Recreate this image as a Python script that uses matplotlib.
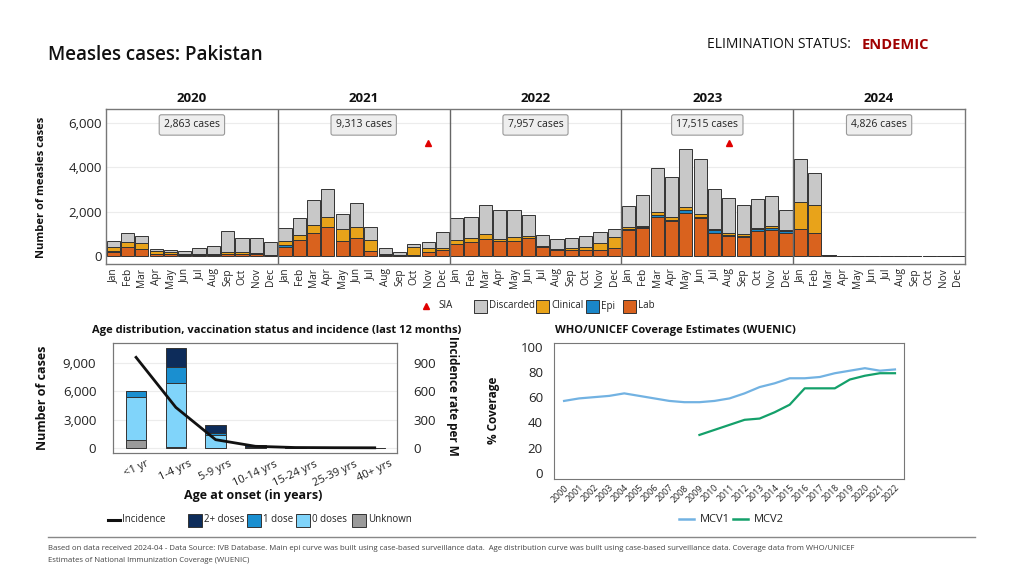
import matplotlib
matplotlib.use("Agg")
import matplotlib.pyplot as plt
from matplotlib.patches import Rectangle
from matplotlib.lines import Line2D
import numpy as np

plt.rcParams['font.family'] = ['Open Sans', 'DejaVu Sans']

# ---------------- data ----------------
years = ["2020", "2021", "2022", "2023", "2024"]
months = ["Jan", "Feb", "Mar", "Apr", "May", "Jun", "Jul", "Aug", "Sep", "Oct", "Nov", "Dec"]
year_totals = ["2,863 cases", "9,313 cases", "7,957 cases", "17,515 cases", "4,826 cases"]

lab_2020 = [200, 420, 330, 100, 75, 60, 45, 60, 75, 75, 75, 40]
epi_2020 = [10, 0, 0, 0, 0, 0, 0, 0, 0, 0, 0, 0]
clin_2020 = [208, 230, 240, 110, 105, 30, 55, 30, 90, 115, 75, 10]
disc_2020 = [262, 390, 350, 90, 75, 135, 275, 345, 975, 610, 680, 580]

lab_2021 = [420, 740, 1040, 1320, 700, 800, 210, 45, 15, 45, 165, 285]
epi_2021 = [70, 0, 0, 0, 0, 0, 0, 0, 0, 0, 0, 0]
clin_2021 = [205, 230, 360, 440, 520, 530, 500, 30, 15, 360, 180, 90]
disc_2021 = [585, 760, 1130, 1280, 680, 1060, 610, 285, 165, 125, 275, 705]

lab_2022 = [555, 645, 780, 690, 690, 800, 390, 285, 270, 285, 285, 360]
epi_2022 = [0, 0, 0, 0, 0, 0, 0, 0, 0, 0, 0, 0]
clin_2022 = [165, 170, 200, 90, 160, 95, 45, 45, 75, 105, 285, 480]
disc_2022 = [980, 960, 1335, 1280, 1240, 970, 525, 420, 485, 495, 510, 390]

lab_2023 = [1160, 1280, 1775, 1580, 1940, 1730, 1040, 900, 870, 1140, 1190, 1020]
epi_2023 = [40, 30, 100, 30, 130, 50, 120, 30, 50, 90, 60, 100]
clin_2023 = [90, 60, 115, 135, 125, 100, 70, 90, 55, 50, 120, 50]
disc_2023 = [980, 1400, 2000, 1815, 2645, 2510, 1810, 1600, 1315, 1310, 1320, 920]

lab_2024 = [1200, 1050, 50, 0, 0, 0, 0, 0, 0, 0, 0, 0]
epi_2024 = [20, 10, 0, 0, 0, 0, 0, 0, 0, 0, 0, 0]
clin_2024 = [1230, 1255, 10, 0, 0, 0, 0, 0, 0, 0, 0, 0]
disc_2024 = [1930, 1445, 0, 0, 0, 0, 0, 0, 0, 0, 0, 0]

sia_months = ["2021-Nov", "2023-Aug"]
sia_level = 5100

age_groups = ["<1 yr", "1-4 yrs", "5-9 yrs", "10-14 yrs", "15-24 yrs", "25-39 yrs", "40+ yrs"]
age_unknown = [810, 80, 0, 20, 5, 3, 2]
age_zero = [4540, 6850, 1370, 60, 10, 8, 4]
age_one = [635, 1620, 250, 40, 5, 4, 2]
age_two = [0, 2080, 770, 150, 10, 5, 2]
incidence = [960, 430, 88, 18, 5, 3, 2]

wuenic_years = list(range(2000, 2023))
mcv1 = [57, 59, 60, 61, 63, 61, 59, 57, 56, 56, 57, 59, 63, 68, 71, 75, 75, 76, 79, 81, 83, 81, 82]
mcv2_years = list(range(2009, 2023))
mcv2 = [30, 34, 38, 42, 43, 48, 54, 67, 67, 67, 74, 77, 79, 79]

# ---------------- colours ----------------
C_DISC = "#c8c8c8"
C_CLIN = "#e8a31a"
C_EPI = "#1a86c8"
C_LAB = "#d9621e"
C_TWO = "#0d2c5a"
C_ONE = "#1a8fd0"
C_ZERO = "#80d4fa"
C_UNK = "#9a9a9a"
C_MCV1 = "#72b2e2"
C_MCV2 = "#14a06a"
SPINE = "#777777"
TXT = "#222222"

W, H = 1024, 576
fig = plt.figure(figsize=(W / 100, H / 100), dpi=100)


def rect(l, t, r, b):
    return [l / W, 1 - b / H, (r - l) / W, (b - t) / H]


def fx(x):
    return x / W


def fy(y):
    return 1 - y / H


# ---------------- header ----------------
fig.text(fx(48), fy(55), "Measles cases: Pakistan", fontsize=13.5, fontweight="semibold",
         va="center", ha="left", color="#111111")
fig.text(fx(851), fy(45), "ELIMINATION STATUS:", fontsize=10, va="center", ha="right", color="#111111")
fig.text(fx(862), fy(45), "ENDEMIC", fontsize=10.5, fontweight="bold", va="center", ha="left", color="#a00000")

# ---------------- top epi curve ----------------
ax = fig.add_axes(rect(106, 109, 965, 264))
lab = lab_2020 + lab_2021 + lab_2022 + lab_2023 + lab_2024
epi = epi_2020 + epi_2021 + epi_2022 + epi_2023 + epi_2024
clin = clin_2020 + clin_2021 + clin_2022 + clin_2023 + clin_2024
disc = disc_2020 + disc_2021 + disc_2022 + disc_2023 + disc_2024
x = np.arange(len(lab))
lab_a, epi_a, clin_a, disc_a = map(np.array, (lab, epi, clin, disc))
bw = 0.92
ekw = dict(edgecolor="#333333", linewidth=0.7)
ax.bar(x, lab_a, bw, color=C_LAB, **ekw)
ax.bar(x, epi_a, bw, bottom=lab_a, color=C_EPI, **ekw)
ax.bar(x, clin_a, bw, bottom=lab_a + epi_a, color=C_CLIN, **ekw)
ax.bar(x, disc_a, bw, bottom=lab_a + epi_a + clin_a, color=C_DISC, **ekw)

labels_all = [f"{y}-{m}" for y in years for m in months]
for s in sia_months:
    i = labels_all.index(s)
    ax.plot([x[i]], [sia_level], marker="^", color="#e00000", markersize=4.5, linestyle="none")

ax.set_xlim(-0.5, len(lab) - 0.5)
ax.set_ylim(-360, 6640)
ax.set_yticks([0, 2000, 4000, 6000])
ax.set_yticklabels(["0", "2,000", "4,000", "6,000"], fontsize=9.5, color=TXT)
ax.set_xticks(x)
ax.set_xticklabels(months * len(years), rotation=90, fontsize=7.3, color=TXT)
ax.tick_params(length=0, pad=3)
ax.grid(axis="y", color="#ececec", linewidth=0.8)
ax.set_axisbelow(True)
for sp in ax.spines.values():
    sp.set_color(SPINE)
    sp.set_linewidth(1.0)
for k in range(1, len(years)):
    ax.axvline(12 * k - 0.5, color="#666666", linewidth=1.0)
for k, (yr, tot) in enumerate(zip(years, year_totals)):
    cx = 12 * k + 5.5
    ax.text(cx, 1.065, yr, transform=ax.get_xaxis_transform(), ha="center", va="center",
            fontsize=9.5, fontweight="bold", color="#111111")
    ax.text(cx, 0.897, tot, transform=ax.get_xaxis_transform(), ha="center", va="center",
            fontsize=7.5, color="#222222",
            bbox=dict(boxstyle="round,pad=0.45,rounding_size=0.2", facecolor="#eeeeee",
                      edgecolor="#999999", linewidth=0.8))
fig.text(fx(42), fy(187), "Number of measles cases", rotation=90, ha="center", va="center",
         fontsize=8, fontweight="bold", color="#111111")

# top legend (manual)
ly = 306
fig.add_artist(Line2D([fx(426)], [fy(ly)], marker="^", color="#e00000", markersize=4.5,
                      linestyle="none", transform=fig.transFigure))
fig.text(fx(438), fy(ly), "SIA", fontsize=7, va="center", ha="left", color=TXT)
for x0, col, lbl in [(474, C_DISC, "Discarded"), (536, C_CLIN, "Clinical"),
                     (586, C_EPI, "Epi"), (623, C_LAB, "Lab")]:
    fig.add_artist(Rectangle((fx(x0), fy(ly + 7)), 13 / W, 13 / H, facecolor=col,
                             edgecolor="#333333", linewidth=0.7, transform=fig.transFigure))
    fig.text(fx(x0 + 15), fy(ly), lbl, fontsize=7, va="center", ha="left", color=TXT)

# ---------------- age distribution ----------------
ax2 = fig.add_axes(rect(113, 343, 397, 453))
xa = np.arange(len(age_groups))
u, z, o, t = map(np.array, (age_unknown, age_zero, age_one, age_two))
abw = 0.52
ekw2 = dict(edgecolor="#333333", linewidth=0.7)
ax2.bar(xa, u, abw, color=C_UNK, **ekw2)
ax2.bar(xa, z, abw, bottom=u, color=C_ZERO, **ekw2)
ax2.bar(xa, o, abw, bottom=u + z, color=C_ONE, **ekw2)
ax2.bar(xa, t, abw, bottom=u + z + o, color=C_TWO, **ekw2)
ax2.set_xlim(-0.58, 6.56)
ax2.set_ylim(-530, 11120)
ax2.set_yticks([0, 3000, 6000, 9000])
ax2.set_yticklabels(["0", "3,000", "6,000", "9,000"], fontsize=9.5, color=TXT)
ax2.set_xticks(xa)
ax2.set_xticklabels(age_groups, rotation=25, fontsize=8, color=TXT, ha="center")
ax2.tick_params(length=0, pad=4)
ax2.tick_params(axis="y", pad=12)
ax2.grid(axis="y", color="#ececec", linewidth=0.8)
ax2.set_axisbelow(True)
for sp in ax2.spines.values():
    sp.set_color(SPINE)
ax2b = ax2.twinx()
ax2b.plot(xa, incidence, color="#111111", linewidth=2.0)
ax2b.set_ylim(-53, 1112)
ax2b.set_yticks([0, 300, 600, 900])
ax2b.set_yticklabels(["0", "300", "600", "900"], fontsize=9.5, color=TXT)
ax2b.tick_params(length=0, pad=12)
for sp in ax2b.spines.values():
    sp.set_color(SPINE)
fig.text(fx(277), fy(331), "Age distribution, vaccination status and incidence (last 12 months)",
         fontsize=8, fontweight="bold", ha="center", va="center", color="#111111")
fig.text(fx(253), fy(496), "Age at onset (in years)", fontsize=9, fontweight="bold",
         ha="center", va="center", color="#111111")
fig.text(fx(42), fy(398), "Number of cases", rotation=90, fontsize=9, fontweight="bold",
         ha="center", va="center", color="#111111")
fig.text(fx(452), fy(396), "Incidence rate per M", rotation=-90, fontsize=8.5, fontweight="bold",
         ha="center", va="center", color="#111111")
# age legend
ly2 = 520
fig.add_artist(Line2D([fx(108), fx(120)], [fy(ly2), fy(ly2)], color="#111111", linewidth=2.2,
                      transform=fig.transFigure))
fig.text(fx(122), fy(ly2), "Incidence", fontsize=7, va="center", ha="left", color=TXT)
for x0, col, lbl in [(188, C_TWO, "2+ doses"), (247, C_ONE, "1 dose"),
                     (296, C_ZERO, "0 doses"), (352, C_UNK, "Unknown")]:
    fig.add_artist(Rectangle((fx(x0), fy(ly2 + 7)), 14 / W, 13 / H, facecolor=col,
                             edgecolor="#333333", linewidth=0.7, transform=fig.transFigure))
    fig.text(fx(x0 + 16), fy(ly2), lbl, fontsize=7, va="center", ha="left", color=TXT)

# ---------------- WUENIC ----------------
ax3 = fig.add_axes(rect(554, 343, 904, 479))
ax3.plot(wuenic_years, mcv1, color=C_MCV1, linewidth=1.6)
ax3.plot(mcv2_years, mcv2, color=C_MCV2, linewidth=1.6)
ax3.set_xlim(1999.33, 2022.6)
ax3.set_ylim(-5, 103)
ax3.set_yticks([0, 20, 40, 60, 80, 100])
ax3.set_yticklabels(["0", "20", "40", "60", "80", "100"], fontsize=9.5, color=TXT)
ax3.set_xticks(wuenic_years)
ax3.set_xticklabels([str(v) for v in wuenic_years], rotation=45, fontsize=6.3, color=TXT,
                    ha="right", rotation_mode="anchor")
ax3.tick_params(length=0, pad=3)
ax3.tick_params(axis="y", pad=8)
for sp in ax3.spines.values():
    sp.set_color(SPINE)
fig.text(fx(555), fy(331), "WHO/UNICEF Coverage Estimates (WUENIC)", fontsize=8,
         fontweight="bold", ha="left", va="center", color="#111111")
fig.text(fx(494), fy(410), "% Coverage", rotation=90, fontsize=8.5, fontweight="bold",
         ha="center", va="center", color="#111111")
ly3 = 519
for (x0, x1), col, lbl in [((679, 694), C_MCV1, "MCV1"), ((733, 748), C_MCV2, "MCV2")]:
    fig.add_artist(Line2D([fx(x0), fx(x1)], [fy(ly3), fy(ly3)], color=col, linewidth=1.8,
                          transform=fig.transFigure))
    fig.text(fx(x1 + 6), fy(ly3), lbl, fontsize=8, va="center", ha="left", color=TXT)

# ---------------- footer ----------------
fig.add_artist(Line2D([fx(48), fx(975)], [fy(537), fy(537)], color="#888888", linewidth=1.0,
                      transform=fig.transFigure))
fig.text(fx(48), fy(549), "Based on data received 2024-04 - Data Source: IVB Database. Main epi curve was built using "
         "case-based surveillance data.  Age distribution curve was built using case-based surveillance data. "
         "Coverage data from WHO/UNICEF", fontsize=5.6, ha="left", va="center", color="#444444")
fig.text(fx(48), fy(560), "Estimates of National Immunization Coverage (WUENIC)", fontsize=5.6,
         ha="left", va="center", color="#444444")

fig.savefig("out.png", dpi=100, facecolor="white")
